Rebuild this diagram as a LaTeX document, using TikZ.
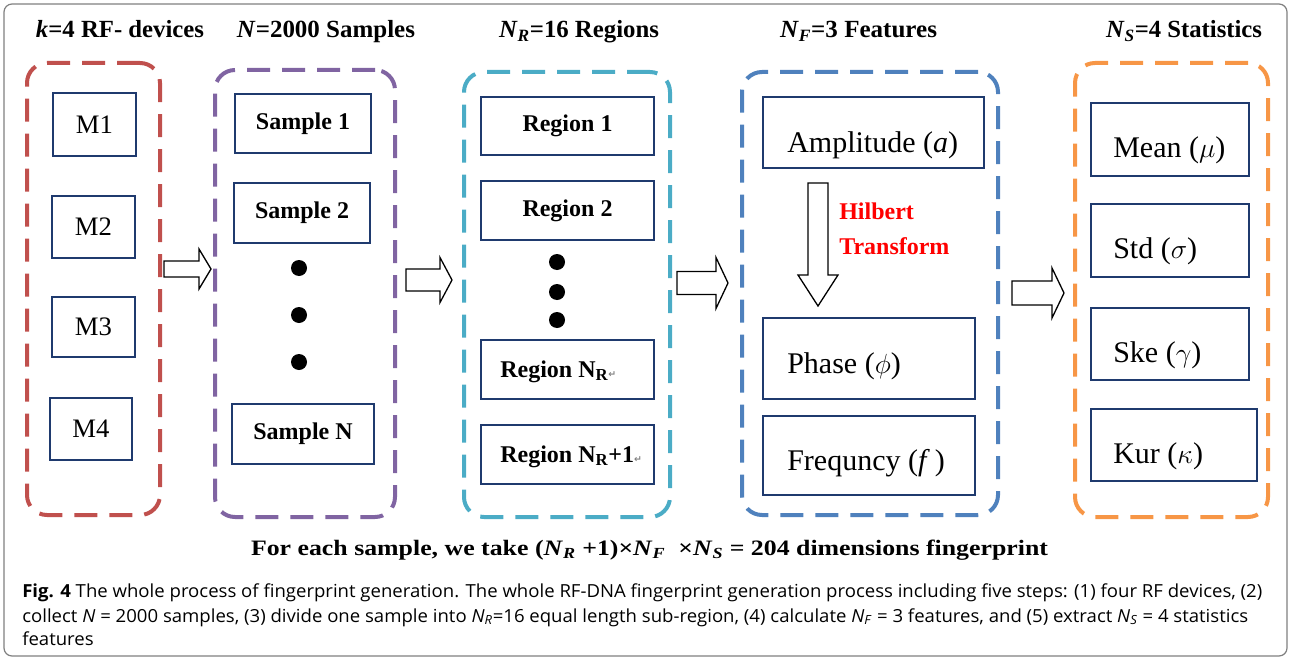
\documentclass[tikz,border=0pt]{standalone}
\usepackage{fontspec}
\usepackage{graphicx}
\setmainfont{Liberation Serif}
\newfontfamily\capfont{Open Sans}
\newfontfamily\symfont{DejaVu Sans}
\newlength\px \setlength\px{0.75pt}
\newlength\capw
\newsavebox\capbox
\definecolor{gred}{HTML}{C0504D}
\definecolor{gpurple}{HTML}{8064A2}
\definecolor{gcyan}{HTML}{4BACC6}
\definecolor{gblue}{HTML}{4F81BD}
\definecolor{gorange}{HTML}{F79646}
\definecolor{navy}{HTML}{1F3A6E}
\definecolor{hred}{HTML}{FF0000}
\definecolor{framegray}{HTML}{808080}
\newcommand\ret{{\symfont\fontsize{7}{8}\selectfont\color{gray}↵}}
\newcommand\fitto[2]{\resizebox{#1}{\height}{#2}}
\newcommand\capA{\textbf{Fig. 4} The whole process of fingerprint generation. The whole RF-DNA fingerprint generation process including five steps: (1) four RF devices, (2)}
\newcommand\capB{collect \textit{N} = 2000 samples, (3) divide one sample into \textit{N}\textsubscript{\textit{R}}=16 equal length sub-region, (4) calculate \textit{N}\textsubscript{\textit{F}} = 3 features, and (5) extract \textit{N}\textsubscript{\textit{S}} = 4 statistics}
\newcommand\capC{features}
\newcommand\capsize{\capfont\fontsize{13.5}{16}\selectfont}
% horizontal block arrow: name, x0, yc, length, shaft half, head half, head length
\newcommand\harrow[7]{%
  \coordinate (#1) at (#2,#3);
  \draw[barrow] (#1) ++(0,-#5) -- ++(#4-#7,0) -- ++(0,#5-#6) -- ($(#1)+(#4,0)$) -- ($(#1)+(#4-#7,#6)$) -- ++(0,#5-#6) -- ($(#1)+(0,#5)$) -- cycle;}
\usetikzlibrary{calc}
\begin{document}
\sbox\capbox{\capsize\capA}%
\setlength\capw{\wd\capbox}%
\pgfmathsetmacro\capsx{930/\capw}%
\begin{tikzpicture}[x=0.75pt,y=-0.75pt,
  grp/.style={draw, rounded corners=15pt, line width=3pt, dash pattern=on 17.25pt off 9pt, inner sep=0pt, outer sep=0pt},
  bx/.style={draw=navy, line width=2\px, inner sep=0pt, fill=white},
  mtxt/.style={font=\fontsize{20}{24}\selectfont},
  btxt/.style={font=\bfseries\fontsize{18}{22}\selectfont},
  ftxt/.style={font=\fontsize{22.5}{27}\selectfont, inner sep=0pt, anchor=base west},
  head/.style={font=\bfseries\fontsize{18.5}{22}\selectfont, inner sep=0pt, anchor=base},
  dot/.style={circle, fill=black, minimum size=16\px, inner sep=0pt},
  barrow/.style={draw=black, line width=1.3\px, fill=white, line join=miter},
  captxt/.style={inner sep=0pt, anchor=base west}
]
\useasboundingbox (0,0) rectangle (1291,660);
\draw[framegray, line width=1.2\px, rounded corners=8\px] (4,4) rectangle (1287,656);

% headings
\node[head] (h1) at (120,38) {\fitto{168\px}{\textit{k}=4 RF- devices}};
\node[head] (h2) at (326,38) {\fitto{178\px}{\textit{N}=2000 Samples}};
\node[head] (h3) at (579,38) {\fitto{160\px}{\textit{N}\textsubscript{\textit{R}}=16 Regions}};
\node[head] (h4) at (858.5,38) {\fitto{157\px}{\textit{N}\textsubscript{\textit{F}}=3 Features}};
\node[head] (h5) at (1184,38) {\fitto{156\px}{\textit{N}\textsubscript{\textit{S}}=4 Statistics}};

% groups
\node[grp, draw=gred, minimum width=133\px, minimum height=452\px] (g1) at (93.5,289) {};
\node[grp, draw=gpurple, minimum width=180\px, minimum height=447\px] (g2) at (305,293.5) {};
\node[grp, draw=gcyan, minimum width=206\px, minimum height=445\px] (g3) at (567,294.5) {};
\node[grp, draw=gblue, minimum width=256\px, minimum height=443\px] (g4) at (870,293.5) {};
\node[grp, draw=gorange, minimum width=193\px, minimum height=454\px] (g5) at (1171.5,290) {};

% devices
\node[bx, mtxt, minimum width=83\px, minimum height=63\px] (m1) at (94.5,124.5) {M1};
\node[bx, mtxt, minimum width=83\px, minimum height=62\px] (m2) at (93.5,227) {M2};
\node[bx, mtxt, minimum width=83\px, minimum height=60\px] (m3) at (93.5,327) {M3};
\node[bx, mtxt, minimum width=82\px, minimum height=62\px] (m4) at (91,429) {M4};

% samples
\node[bx, btxt, minimum width=136\px, minimum height=59\px] (s1) at (303,123.5) {Sample 1};
\node[bx, btxt, minimum width=136\px, minimum height=60\px] (s2) at (302,213) {Sample 2};
\node[dot] (sd1) at (299,268) {};
\node[dot] (sd2) at (299,315) {};
\node[dot] (sd3) at (299,362) {};
\node[bx, btxt, minimum width=142\px, minimum height=60\px] (sn) at (303,434) {Sample N};

% regions
\node[bx, btxt, minimum width=173\px, minimum height=58\px] (r1) at (567.5,126) {Region 1};
\node[bx, btxt, minimum width=173\px, minimum height=59\px] (r2) at (567.5,210.5) {Region 2};
\node[dot] (rd1) at (557,262) {};
\node[dot] (rd2) at (557,292) {};
\node[dot] (rd3) at (557,320) {};
\node[bx, minimum width=173\px, minimum height=59\px] (rn) at (567.5,369.5) {};
\node[btxt, inner sep=0pt, anchor=base west] (rnt) at (500,377) {Region N\textsubscript{R}\ret};
\node[bx, minimum width=173\px, minimum height=59\px] (rn1) at (567.5,454.5) {};
\node[btxt, inner sep=0pt, anchor=base west] (rn1t) at (500,462) {Region N\textsubscript{R}+1\ret};

% features
\node[bx, minimum width=221\px, minimum height=71\px] (amp) at (873.5,132.5) {};
\node[ftxt] (ampt) at (787,152) {Amplitude (\textit{a})};
\node[bx, minimum width=212\px, minimum height=81\px] (pha) at (869,358.5) {};
\node[ftxt] (phat) at (787,373) {Phase ($\phi$)};
\node[bx, minimum width=212\px, minimum height=79\px] (frq) at (869,455.5) {};
\node[ftxt] (frqt) at (787,470) {Frequncy (\textit{f}\,)};
% Hilbert down arrow
\coordinate (hil) at (818,183);
\draw[barrow] (hil) ++(-10,0) -- ++(20,0) -- ++(0,92) -- ++(10,0) -- ($(hil)+(0,123)$) -- ($(hil)+(-20,92)$) -- ++(10,0) -- cycle;
\node[font=\bfseries\fontsize{18}{26}\selectfont, text=hred, align=left, inner sep=0pt, anchor=base west] (hilt) at (839,254) {Hilbert\\Transform};

% statistics
\node[bx, minimum width=158\px, minimum height=73\px] (mean) at (1170,139.5) {};
\node[ftxt] (meant) at (1113,157) {Mean ($\mu$)};
\node[bx, minimum width=158\px, minimum height=73\px] (std) at (1170,240.5) {};
\node[ftxt] (stdt) at (1113,258) {Std ($\sigma$)};
\node[bx, minimum width=158\px, minimum height=72\px] (ske) at (1170,344) {};
\node[ftxt] (sket) at (1113,362) {Ske ($\gamma$)};
\node[bx, minimum width=166\px, minimum height=72\px] (kur) at (1174,445) {};
\node[ftxt] (kurt) at (1113,463) {Kur ($\kappa$)};

% block arrows between groups
\harrow{a1}{164}{269}{47}{8}{20}{12}
\harrow{a2}{406}{280}{46}{11}{22.5}{12}
\harrow{a3}{677}{283}{51}{11.5}{25.5}{12}
\harrow{a4}{1012}{293}{52}{12}{25}{12}

% formula line
\node[font=\bfseries\fontsize{16.5}{20}\selectfont, inner sep=0pt, anchor=base] (form) at (649.5,555)
  {\fitto{797\px}{For each sample, we take (\textit{N}\textsubscript{\textit{R}} +1)×\textit{N}\textsubscript{\textit{F}}\ \ ×\textit{N}\textsubscript{\textit{S}} = 204 dimensions fingerprint}};

% caption
\node[captxt] (c1) at (22,597) {\capsize\scalebox{\capsx}[1]{\capA}};
\node[captxt] (c2) at (22,622) {\capsize\scalebox{\capsx}[1]{\capB}};
\node[captxt] (c3) at (22,645) {\capsize\scalebox{\capsx}[1]{\capC}};
\end{tikzpicture}
\end{document}
